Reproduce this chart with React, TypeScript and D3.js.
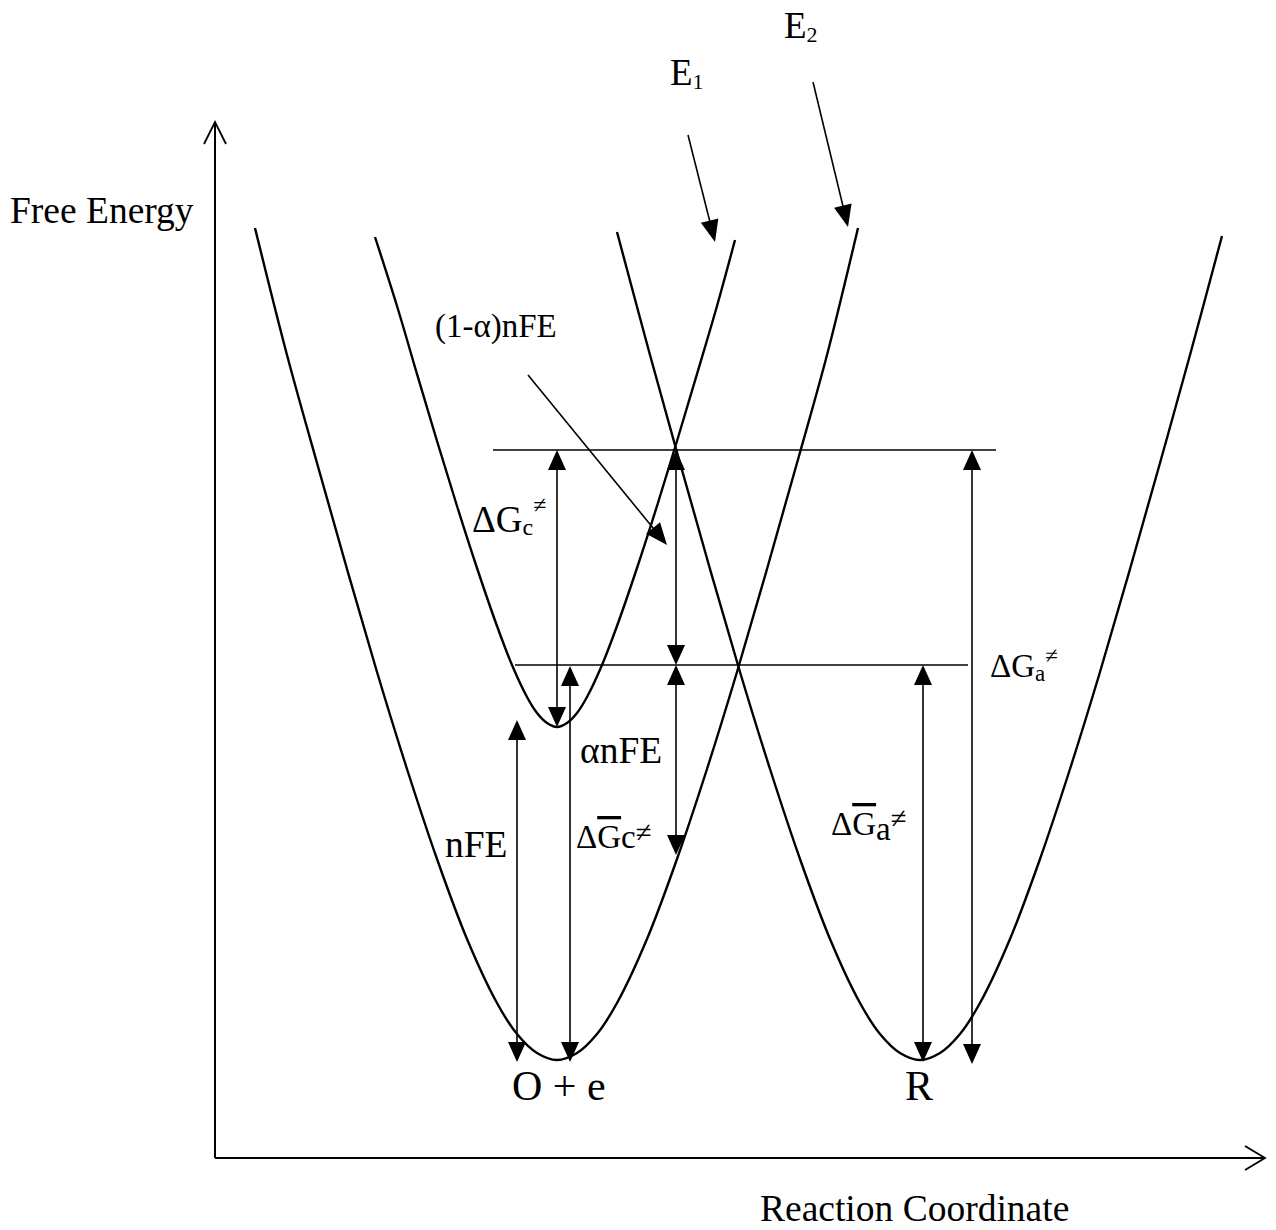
import React from 'react';
import * as d3 from 'd3';

const wellLx = [4.0, 7.2, 10.2, 13.2, 16.2, 19.2, 22.2, 25.2, 28.2, 30.2, 32.2, 34.2, 36.2, 38.2, 40.2, 43.2, 46.2, 49.2, 52.2, 55.2, 58.2, 61.2, 64.3];
const wellLe = [93.0, 80.3, 69.5, 58.9, 48.6, 38.9, 29.9, 21.9, 15.5, 12.4, 10.5, 9.8, 10.5, 12.4, 15.5, 21.9, 29.9, 38.9, 48.6, 58.9, 69.5, 80.3, 93.0];

const wellUx = [16.0, 18.2, 20.2, 22.2, 24.2, 26.2, 28.2, 29.7, 31.2, 32.2, 33.2, 34.2, 35.2, 36.2, 37.2, 38.7, 40.2, 42.2, 44.2, 46.2, 48.2, 50.2, 52.0];
const wellUe = [92.1, 85.2, 78.4, 71.7, 65.2, 59.0, 53.2, 49.3, 46.1, 44.5, 43.5, 43.1, 43.5, 44.5, 46.1, 49.3, 53.2, 59.0, 65.2, 71.7, 78.4, 85.2, 91.8];

const wellRx = [40.2, 43.5, 46.5, 49.5, 52.5, 55.5, 58.5, 61.5, 64.5, 66.5, 68.5, 70.5, 72.5, 74.5, 76.5, 79.5, 82.5, 85.5, 88.5, 91.5, 94.5, 97.5, 100.7];
const wellRe = [92.6, 80.3, 69.5, 58.9, 48.6, 38.9, 29.9, 21.9, 15.5, 12.4, 10.5, 9.8, 10.5, 12.4, 15.5, 21.9, 29.9, 38.9, 48.6, 58.9, 69.5, 80.3, 92.2];

// Horizontal energy levels
const levelE = [70.8, 49.3];
const levelFrom = [27.8, 30.0];
const levelTo = [78.1, 75.3];

// Vertical double-headed arrows
const vArrowX = [34.2, 30.2, 35.5, 46.1, 46.1, 70.8, 75.7];
const vArrowTop = [70.8, 43.8, 49.2, 70.8, 49.3, 49.3, 70.8];
const vArrowBottom = [43.1, 9.6, 9.6, 49.3, 30.3, 9.6, 9.4];

// Pointer arrows (start -> tip)
const ptrX0 = [31.3, 47.3, 59.8];
const ptrE0 = [78.3, 102.3, 107.6];
const ptrX1 = [45.2, 50.0, 63.3];
const ptrE1 = [61.3, 91.6, 93.1];

const FONT = "'Liberation Serif', 'Times New Roman', serif";

function head(tx: number, ty: number, ux: number, uy: number, L = 20, Wd = 9) {
  const bx = tx - ux * L, by = ty - uy * L;
  const nx = -uy, ny = ux;
  return `M${tx},${ty}L${bx + nx * Wd},${by + ny * Wd}L${bx - nx * Wd},${by - ny * Wd}Z`;
}

export default function App() {
  const W = 1276, H = 1230;
  const x = d3.scaleLinear().domain([0, 105]).range([215, 1265]);
  const y = d3.scaleLinear().domain([0, 103.6]).range([1158, 122]);

  const line = d3.line<[number, number]>()
    .x(d => x(d[0]))
    .y(d => y(d[1]))
    .curve(d3.curveCatmullRom.alpha(0.5));

  const wells = [
    d3.zip(wellLx, wellLe) as [number, number][],
    d3.zip(wellUx, wellUe) as [number, number][],
    d3.zip(wellRx, wellRe) as [number, number][],
  ];

  const [x0, x1] = x.range();
  const [yb, yt] = y.range();

  return (
    <svg width={W} height={H} style={{ position: 'absolute', left: 0, top: 0, background: '#fff' }} fontFamily={FONT}>
      <rect width={W} height={H} fill="#fff" />
      {/* axes */}
      <g stroke="#000" fill="none" strokeWidth={2}>
        <line x1={x0} y1={yb} x2={x0} y2={yt} />
        <line x1={x0} y1={yb} x2={x1} y2={yb} />
        <path d={`M${x0 - 11},${yt + 22}L${x0},${yt}L${x0 + 11},${yt + 22}`} strokeWidth={1.8} />
        <path d={`M${x1 - 20},${yb - 12}L${x1},${yb}L${x1 - 20},${yb + 12}`} strokeWidth={1.8} />
      </g>

      {/* wells */}
      <g stroke="#000" fill="none" strokeWidth={2.4}>
        {wells.map((w, i) => <path key={i} d={line(w) || ''} />)}
      </g>

      {/* levels */}
      <g stroke="#000" strokeWidth={1.6}>
        {levelE.map((e, i) => (
          <line key={i} x1={x(levelFrom[i])} x2={x(levelTo[i])} y1={y(e)} y2={y(e)} />
        ))}
      </g>

      {/* vertical arrows */}
      <g>
        {vArrowX.map((vx, i) => {
          const px = x(vx), pt = y(vArrowTop[i]), pb = y(vArrowBottom[i]);
          return (
            <g key={i}>
              <line x1={px} x2={px} y1={pt + 10} y2={pb - 10} stroke="#000" strokeWidth={1.6} />
              <path d={head(px, pt, 0, -1)} fill="#000" />
              <path d={head(px, pb, 0, 1)} fill="#000" />
            </g>
          );
        })}
      </g>

      {/* pointer arrows */}
      <g>
        {ptrX0.map((px0, i) => {
          const ax = x(px0), ay = y(ptrE0[i]), bx = x(ptrX1[i]), by = y(ptrE1[i]);
          const len = Math.hypot(bx - ax, by - ay);
          const ux = (bx - ax) / len, uy = (by - ay) / len;
          return (
            <g key={i}>
              <line x1={ax} y1={ay} x2={bx - ux * 10} y2={by - uy * 10} stroke="#000" strokeWidth={1.6} />
              <path d={head(bx, by, ux, uy, 22, 9)} fill="#000" />
            </g>
          );
        })}
      </g>

      {/* labels */}
      <g fill="#000">
        <text x={10} y={223} fontSize={37.5}>Free Energy</text>
        <text x={760} y={1221} fontSize={37.5}>Reaction Coordinate</text>
        <text x={670} y={85} fontSize={37}>E<tspan fontSize={22} dy={4}>1</tspan></text>
        <text x={784} y={38} fontSize={37}>E<tspan fontSize={22} dy={4}>2</tspan></text>
        <text x={435} y={337} fontSize={33}>(1-α)nFE</text>
        <text x={472} y={532} fontSize={37}>ΔG<tspan fontSize={24} dy={3}>c</tspan><tspan fontSize={24} dy={-22}>≠</tspan></text>
        <text x={580} y={763} fontSize={37.5}>αnFE</text>
        <text x={576} y={848} fontSize={33}>Δ<tspan style={{ textDecoration: 'overline' }}>G</tspan>c<tspan fontSize={29} dy={-6}>≠</tspan></text>
        <text x={445} y={857} fontSize={37.5}>nFE</text>
        <text x={831} y={835} fontSize={33}>Δ<tspan style={{ textDecoration: 'overline' }}>G</tspan><tspan dy={5}>a</tspan><tspan fontSize={29} dy={-12}>≠</tspan></text>
        <text x={990} y={677} fontSize={33}>ΔG<tspan fontSize={23} dy={4}>a</tspan><tspan fontSize={23} dy={-18}>≠</tspan></text>
        <text x={512} y={1100} fontSize={42}>O + e</text>
        <text x={905} y={1100} fontSize={42}>R</text>
      </g>
    </svg>
  );
}
